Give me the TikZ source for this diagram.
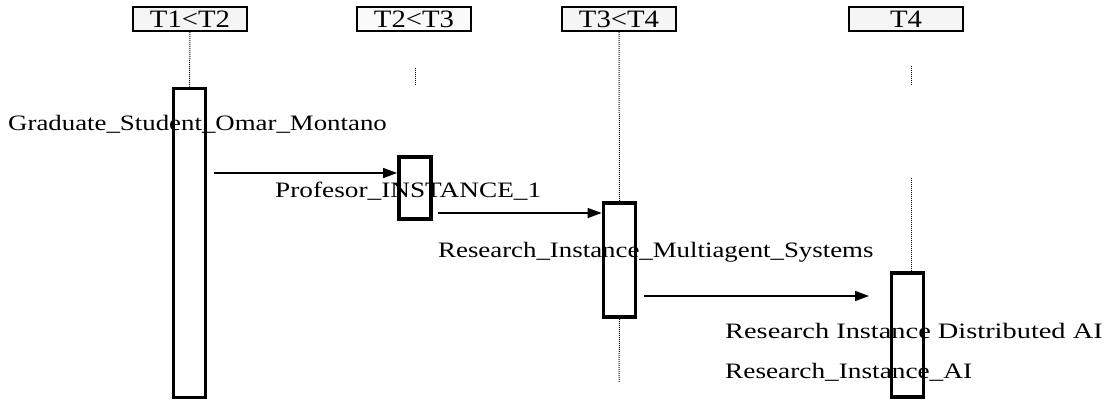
\documentclass[tikz,border=0pt]{standalone}
\usepackage{fontspec}
\setmainfont{Liberation Serif}
\usetikzlibrary{arrows.meta}
\begin{document}
\begin{tikzpicture}[x=1pt,y=-1pt,
  header/.style={draw,line width=1.6pt,fill=gray!8,minimum width=114pt,minimum height=24pt,inner sep=0pt,font=\fontsize{25}{26}\selectfont},
  act/.style={draw,line width=3.8pt,minimum width=32pt,inner sep=0pt},
  life/.style={line width=1pt,dash pattern=on 1pt off 1pt},
  msg/.style={line width=1.3pt,-{Triangle[length=14pt,width=10pt]}},
  lbl/.style={anchor=base west,inner sep=0pt,font=\fontsize{22}{24}\selectfont}]
\useasboundingbox (0,0) rectangle (1110,401);
% headers
\node[header] (h1) at (190,19) {\scalebox{1.15}[1]{T1<T2}};
\node[header,fill=gray!4] (h2) at (414,19) {\scalebox{1.15}[1]{T2<T3}};
\node[header] (h3) at (619,19) {\scalebox{1.15}[1]{T3<T4}};
\node[header] (h4) at (906,19) {\scalebox{1.15}[1]{T4}};
% activation boxes
\node[act,minimum height=309pt] (a1) at (189.5,243) {};
\node[act,minimum height=62pt] (a2) at (415,188) {};
\node[act,minimum height=114pt] (a3) at (619.5,260) {};
\node[act,minimum height=124pt] (a4) at (907.5,335) {};
% lifelines
\coordinate (l2a) at (415,68);
\coordinate (l2b) at (415,86);
\coordinate (l3e) at (619,382);
\coordinate (l4a) at (911,66);
\coordinate (l4b) at (911,86);
\coordinate (l4c) at (911,178);
\draw[life] (h1.south) -- (a1.north);
\draw[life] (l2a) -- (l2b);
\draw[life] (h3.south) -- (a3.north);
\draw[life] (a3.south) -- (l3e);
\draw[life] (l4a) -- (l4b);
\draw[life] (l4c) -- (l4c |- a4.north);
% messages
\coordinate (m1) at (214,173);
\coordinate (m2) at (438,213);
\coordinate (m3) at (644,296);
\coordinate (m3e) at (869,296);
\draw[msg] (m1) -- (m1 -| a2.west);
\draw[msg] (m2) -- (m2 -| a3.west);
\draw[msg] (m3) -- (m3e);
% labels
\node[lbl] (t1) at (8,131) {\scalebox{1.22}[1]{Graduate\_Student\_Omar\_Montano}};
\node[lbl] (t2) at (275,197) {\scalebox{1.24}[1]{Profesor\_INSTANCE\_1}};
\node[lbl] (t3) at (438,257) {\scalebox{1.22}[1]{Research\_Instance\_Multiagent\_Systems}};
\node[lbl] (t4) at (725,338) {\scalebox{1.29}[1]{Research Instance Distributed AI}};
\node[lbl] (t5) at (725,378) {\scalebox{1.24}[1]{Research\_Instance\_AI}};
\end{tikzpicture}
\end{document}
